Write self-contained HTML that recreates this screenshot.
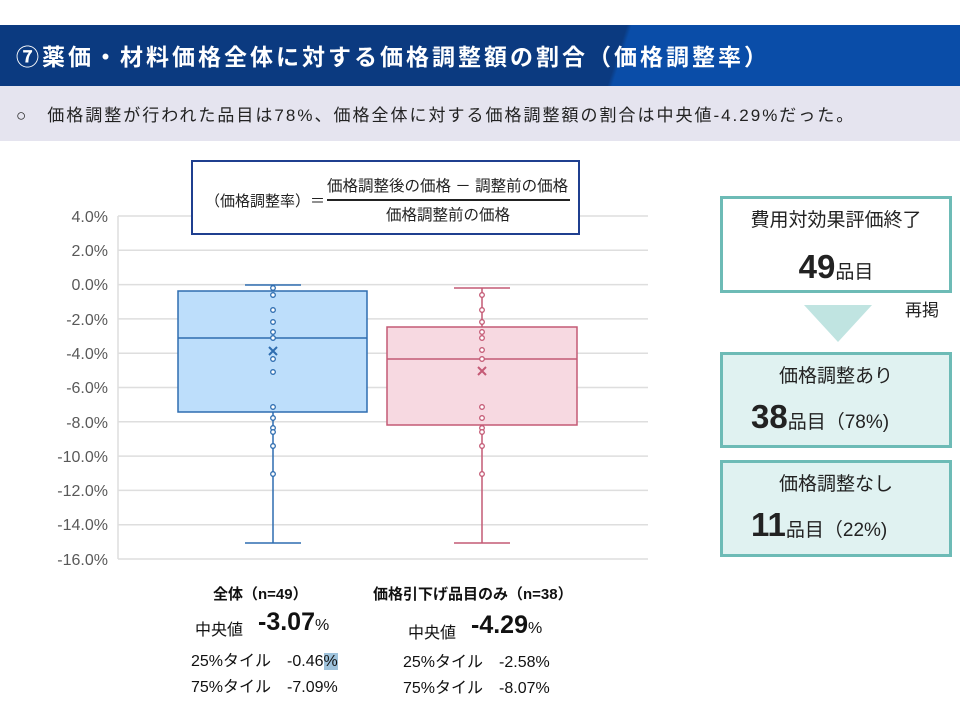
<!DOCTYPE html>
<html><head><meta charset="utf-8"><style>
body{margin:0;width:960px;height:720px;background:#fff;position:relative;overflow:hidden;font-family:"Liberation Sans","Noto Sans CJK JP",sans-serif;}
.a{position:absolute;white-space:nowrap;}
.title{left:0;top:25px;width:960px;height:61px;background:linear-gradient(108deg,#0b3a80 0%,#0b3a80 64%,#0a4da8 64.5%,#0a4da8 100%);}
.band{left:0;top:86px;width:960px;height:55px;background:#e5e4ef;}
.box{position:absolute;border:3px solid #6dbbb6;box-sizing:border-box;text-align:center;color:#222;}
</style></head><body>
<div class="a title"></div>
<div class="a" style="left:16px;top:38px;font-size:23px;font-weight:bold;color:#fff;letter-spacing:3px">⑦薬価・材料価格全体に対する価格調整額の割合（価格調整率）</div>
<div class="a band"></div>
<div class="a" style="left:16px;top:101px;font-size:17px;color:#222;letter-spacing:2px">○　価格調整が行われた品目は78%、価格全体に対する価格調整額の割合は中央値-4.29%だった。</div>

<svg class="a" style="left:0;top:0" width="960" height="720">
<g stroke="#dedede" stroke-width="1.5">
<line x1="118" y1="216" x2="648" y2="216"/><line x1="118" y1="250.3" x2="648" y2="250.3"/>
<line x1="118" y1="284.6" x2="648" y2="284.6"/><line x1="118" y1="318.9" x2="648" y2="318.9"/>
<line x1="118" y1="353.2" x2="648" y2="353.2"/><line x1="118" y1="387.5" x2="648" y2="387.5"/>
<line x1="118" y1="421.8" x2="648" y2="421.8"/><line x1="118" y1="456.1" x2="648" y2="456.1"/>
<line x1="118" y1="490.4" x2="648" y2="490.4"/><line x1="118" y1="524.7" x2="648" y2="524.7"/>
<line x1="118" y1="559" x2="648" y2="559"/><line x1="118" y1="216" x2="118" y2="559"/>
</g>
<g font-size="16" fill="#595959" text-anchor="end" font-family="Liberation Sans,sans-serif">
<text x="108" y="222">4.0%</text><text x="108" y="256">2.0%</text><text x="108" y="290">0.0%</text>
<text x="108" y="325">-2.0%</text><text x="108" y="359">-4.0%</text><text x="108" y="393">-6.0%</text>
<text x="108" y="428">-8.0%</text><text x="108" y="462">-10.0%</text><text x="108" y="496">-12.0%</text>
<text x="108" y="530">-14.0%</text><text x="108" y="565">-16.0%</text>
</g>
<g stroke="#2e6db0" stroke-width="1.5" fill="none">
<line x1="273" y1="285" x2="273" y2="543"/><line x1="245" y1="285" x2="301" y2="285"/><line x1="245" y1="543" x2="301" y2="543"/>
<rect x="178" y="291" width="189" height="121" fill="#bddefb"/>
<line x1="178" y1="338" x2="367" y2="338"/>
<g fill="#fff" stroke-width="1.3">
<circle cx="273" cy="288" r="2.3"/><circle cx="273" cy="295" r="2.3"/><circle cx="273" cy="310" r="2.3"/><circle cx="273" cy="322" r="2.3"/><circle cx="273" cy="332" r="2.3"/><circle cx="273" cy="338" r="2.3"/><circle cx="273" cy="359" r="2.3"/><circle cx="273" cy="372" r="2.3"/><circle cx="273" cy="407" r="2.3"/><circle cx="273" cy="418" r="2.3"/><circle cx="273" cy="428" r="2.3"/><circle cx="273" cy="432" r="2.3"/><circle cx="273" cy="446" r="2.3"/><circle cx="273" cy="474" r="2.3"/>
</g>
<path d="M269 347l8 8M277 347l-8 8" stroke-width="2"/>
</g>
<g stroke="#c45a75" stroke-width="1.5" fill="none">
<line x1="482" y1="288" x2="482" y2="543"/><line x1="454" y1="288" x2="510" y2="288"/><line x1="454" y1="543" x2="510" y2="543"/>
<rect x="387" y="327" width="190" height="98" fill="#f7d9e1"/>
<line x1="387" y1="359" x2="577" y2="359"/>
<g fill="#fff" stroke-width="1.3">
<circle cx="482" cy="295" r="2.3"/><circle cx="482" cy="310" r="2.3"/><circle cx="482" cy="322" r="2.3"/><circle cx="482" cy="332" r="2.3"/><circle cx="482" cy="338" r="2.3"/><circle cx="482" cy="350" r="2.3"/><circle cx="482" cy="359" r="2.3"/><circle cx="482" cy="407" r="2.3"/><circle cx="482" cy="418" r="2.3"/><circle cx="482" cy="428" r="2.3"/><circle cx="482" cy="432" r="2.3"/><circle cx="482" cy="446" r="2.3"/><circle cx="482" cy="474" r="2.3"/>
</g>
<path d="M478 367l8 8M486 367l-8 8" stroke-width="2"/>
</g>
<polygon points="804,305 872,305 838,342" fill="#c0e4e1"/>
</svg>

<div class="a" style="left:191px;top:160px;width:389px;height:75px;border:2px solid #1f3f8f;box-sizing:border-box;background:#fff"></div>
<div class="a" style="left:205px;top:190px;font-size:15px;color:#222">（価格調整率）＝</div>
<div class="a" style="left:327px;top:174px;font-size:15.5px;color:#222">価格調整後の価格 － 調整前の価格</div>
<div class="a" style="left:327px;top:199px;width:243px;height:1.5px;background:#222"></div>
<div class="a" style="left:386px;top:203px;font-size:15.5px;color:#222">価格調整前の価格</div>

<div class="box" style="left:720px;top:196px;width:232px;height:97px;background:#fff"><div style="font-size:19px;margin-top:6px">費用対効果評価終了</div><div style="margin-top:16px"><b style="font-size:33px">49</b><span style="font-size:19px">品目</span></div></div>
<div class="a" style="left:905px;top:296px;font-size:17px;color:#222">再掲</div>
<div class="box" style="left:720px;top:352px;width:232px;height:96px;background:#e0f2f1"><div style="font-size:19px;margin-top:6px">価格調整あり</div><div style="margin-top:10px;text-align:left;padding-left:28px"><b style="font-size:33px">38</b><span style="font-size:19px">品目（78%)</span></div></div>
<div class="box" style="left:720px;top:460px;width:232px;height:97px;background:#e0f2f1"><div style="font-size:19px;margin-top:6px">価格調整なし</div><div style="margin-top:10px;text-align:left;padding-left:28px"><b style="font-size:33px">11</b><span style="font-size:19px">品目（22%)</span></div></div>

<div class="a" style="left:213px;top:583px;font-size:15px;font-weight:bold;color:#111">全体（n=49）</div>
<div class="a" style="left:195px;top:616px;font-size:16px;color:#111">中央値</div>
<div class="a" style="left:258px;top:608px;font-size:25px;font-weight:bold;color:#111">-3.07<span style="font-size:16px;font-weight:normal">%</span></div>
<div class="a" style="left:191px;top:647px;font-size:16px;color:#111">25%タイル　-0.46<span style="background:#9fc3dc">%</span></div>
<div class="a" style="left:191px;top:673px;font-size:16px;color:#111">75%タイル　-7.09%</div>

<div class="a" style="left:373px;top:583px;font-size:15px;font-weight:bold;color:#111">価格引下げ品目のみ（n=38）</div>
<div class="a" style="left:408px;top:619px;font-size:16px;color:#111">中央値</div>
<div class="a" style="left:471px;top:611px;font-size:25px;font-weight:bold;color:#111">-4.29<span style="font-size:16px;font-weight:normal">%</span></div>
<div class="a" style="left:403px;top:648px;font-size:16px;color:#111">25%タイル　-2.58%</div>
<div class="a" style="left:403px;top:674px;font-size:16px;color:#111">75%タイル　-8.07%</div>
</body></html>
